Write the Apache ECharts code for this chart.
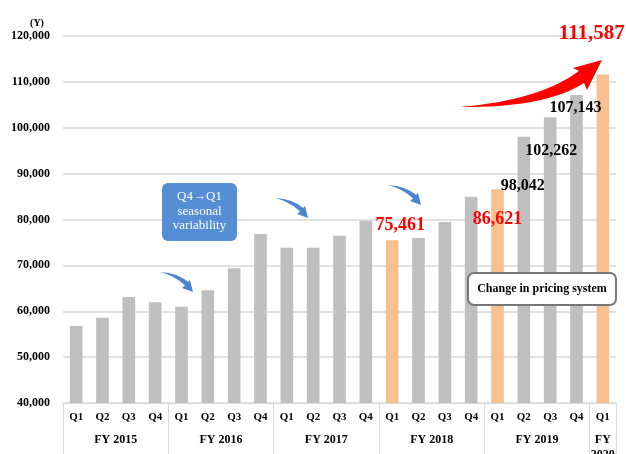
<!DOCTYPE html>
<html>
<head>
<meta charset="utf-8">
<script src="https://cdn.jsdelivr.net/npm/echarts@6/dist/echarts.min.js"></script>
<style>
    html, body { margin: 0; padding: 0; background: #fff; }
    #chart { width: 626px; height: 454px; }
</style>
</head>
<body>
<div id="chart"></div>
<script>
    // quarterly values (Y)
    var quarters = ['Q1', 'Q2', 'Q3', 'Q4', 'Q1', 'Q2', 'Q3', 'Q4', 'Q1', 'Q2', 'Q3', 'Q4',
                    'Q1', 'Q2', 'Q3', 'Q4', 'Q1', 'Q2', 'Q3', 'Q4', 'Q1'];
    var fiscalYears = ['FY 2015', 'FY 2016', 'FY 2017', 'FY 2018', 'FY 2019', 'FY\n2020'];
    var yearStarts = [0, 4, 8, 12, 16, 20, 21];
    var values = [56800, 58600, 63100, 61950,
                  61000, 64600, 69350, 76850,
                  73850, 73850, 76450, 79750,
                  75461, 75950, 79450, 84950,
                  86621, 98042, 102262, 107143,
                  111587];
    var pricingBars = [12, 16, 20];
    var labelledBars = [12, 16, 17, 18, 19, 20];
    var yTicks = [40000, 50000, 60000, 70000, 80000, 90000, 100000, 110000, 120000];

    var serif = 'Liberation Serif';
    var grey = '#bfbfbf';
    var orange = '#f9c08f';
    var lineGrey = '#d9d9d9';

    // how each value label sits next to its bar
    var labelLook = {
        12: { color: '#ff0000', fontSize: 18, offset: [8, -6] },
        16: { color: '#ff0000', fontSize: 18, offset: [0, 39] },
        17: { color: '#000', fontSize: 16, offset: [-1, 57] },
        18: { color: '#000', fontSize: 16, offset: [1, 41] },
        19: { color: '#000', fontSize: 16, offset: [-1, 21] },
        20: { color: '#ff0000', fontSize: 21, offset: [-11, -31] }
    };

    function fmt(v) {
        return v.toLocaleString('en-US');
    }

    // sample a quadratic curve into points (skips the first point)
    function quad(p0, c, p1, n) {
        var pts = [];
        for (var k = 1; k <= n; k++) {
            var t = k / n, u = 1 - t;
            pts.push([u * u * p0[0] + 2 * u * t * c[0] + t * t * p1[0],
                      u * u * p0[1] + 2 * u * t * c[1] + t * t * p1[1]]);
        }
        return pts;
    }

    // curved arrow: upper edge, head, lower edge back to start
    function arrowPoints(start, upCtrl, upEnd, head, lowStart, lowCtrl) {
        var pts = [start];
        pts = pts.concat(quad(start, upCtrl, upEnd, 16));
        pts = pts.concat(head);
        pts.push(lowStart);
        pts = pts.concat(quad(lowStart, lowCtrl, start, 16));
        return pts;
    }

    var barData = values.map(function (v, i) {
        var item = {
            value: v,
            itemStyle: { color: pricingBars.indexOf(i) >= 0 ? orange : grey }
        };
        if (labelledBars.indexOf(i) >= 0) {
            var look = labelLook[i];
            item.label = {
                show: true,
                position: 'top',
                distance: 0,
                offset: look.offset,
                color: look.color,
                fontSize: look.fontSize,
                fontFamily: serif,
                fontWeight: 'bold',
                formatter: function (p) { return fmt(p.value); }
            };
        }
        return item;
    });

    var smallArrow = arrowPoints([0, 0], [18, 1], [28, 10], [[30, 8], [33, 20], [22, 16]], [25, 13.5], [15, 4]);
    var blueArrows = [[160, 272], [275, 198], [388, 185]];

    var graphics = blueArrows.map(function (p) {
        return {
            type: 'polygon',
            x: p[0],
            y: p[1],
            shape: { points: smallArrow },
            style: { fill: '#4a86d0' },
            z: 100
        };
    });

    graphics.push({
        type: 'polygon',
        shape: {
            points: arrowPoints([460, 107], [540, 100], [579, 71],
                                [[573, 68], [602, 60], [587, 90]], [584, 83], [545, 108])
        },
        style: { fill: '#ff0000' },
        z: 100
    });

    graphics.push({
        type: 'rect',
        shape: { x: 162, y: 183, width: 75, height: 58, r: 6 },
        style: { fill: '#558ed5' },
        z: 100
    });
    graphics.push({
        type: 'text',
        x: 199.5,
        y: 211.5,
        style: {
            text: 'Q4\u2192Q1\nseasonal\nvariability',
            fill: '#fff',
            font: '13px "Liberation Serif"',
            lineHeight: 14.5,
            align: 'center',
            verticalAlign: 'middle'
        },
        z: 101
    });

    graphics.push({
        type: 'rect',
        shape: { x: 468, y: 273, width: 148, height: 32, r: 6 },
        style: { fill: '#fff', stroke: '#767676', lineWidth: 2 },
        z: 100
    });
    graphics.push({
        type: 'text',
        x: 542,
        y: 289,
        style: {
            text: 'Change in pricing system',
            fill: '#000',
            font: 'bold 12px "Liberation Serif"',
            align: 'center',
            verticalAlign: 'middle'
        },
        z: 101
    });

    var chart = echarts.init(document.getElementById('chart'));
    chart.setOption({
        animation: false,
        grid: { left: 63, right: 10, top: 36, bottom: 51, outerBoundsMode: 'none' },
        xAxis: [
            {
                type: 'category',
                data: quarters,
                boundaryGap: true,
                axisLine: { show: true, lineStyle: { color: lineGrey, width: 1 } },
                axisTick: { show: false },
                axisLabel: {
                    interval: 0,
                    margin: 9,
                    color: '#000',
                    fontFamily: serif,
                    fontWeight: 'bold',
                    fontSize: 11
                }
            },
            {
                type: 'value',
                position: 'bottom',
                min: 0,
                max: quarters.length,
                axisLine: { show: false },
                splitLine: { show: false },
                axisTick: {
                    show: true,
                    customValues: yearStarts,
                    length: 51,
                    lineStyle: { color: lineGrey, width: 1 }
                },
                axisLabel: {
                    customValues: [2, 6, 10, 14, 18, 20.5],
                    margin: 29,
                    color: '#000',
                    fontFamily: serif,
                    fontWeight: 'bold',
                    fontSize: 12,
                    lineHeight: 15,
                    formatter: function (v) {
                        var k = v === 20.5 ? 5 : (v - 2) / 4;
                        return fiscalYears[k];
                    }
                }
            }
        ],
        yAxis: {
            type: 'value',
            min: yTicks[0],
            max: yTicks[yTicks.length - 1],
            interval: 10000,
            name: '(Y)',
            nameLocation: 'end',
            nameGap: 8,
            nameTextStyle: {
                color: '#000',
                fontFamily: serif,
                fontWeight: 'bold',
                fontSize: 10,
                align: 'center',
                padding: [0, 52, 0, 0]
            },
            axisLine: { show: false },
            axisTick: { show: false },
            splitLine: { lineStyle: { color: lineGrey, width: 1.5 } },
            axisLabel: {
                margin: 13,
                color: '#000',
                fontFamily: serif,
                fontWeight: 'bold',
                fontSize: 12,
                formatter: function (v) { return fmt(v); }
            }
        },
        series: [
            {
                type: 'bar',
                xAxisIndex: 0,
                barWidth: '48%',
                data: barData
            }
        ],
        graphic: graphics
    });
</script>
</body>
</html>
